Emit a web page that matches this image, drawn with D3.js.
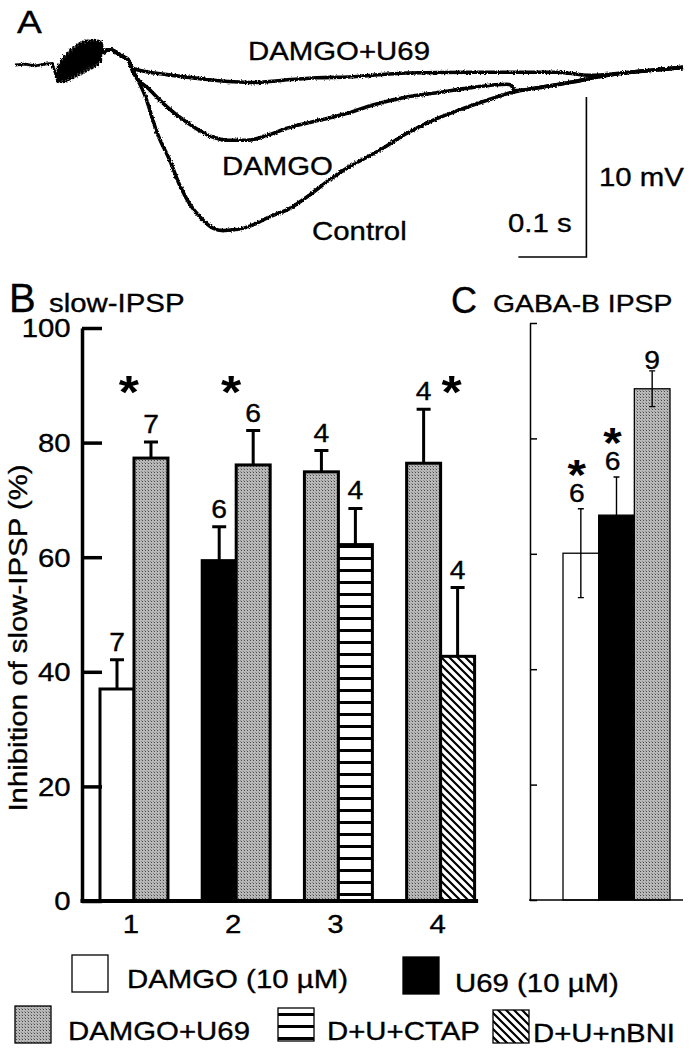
<!DOCTYPE html>
<html><head><meta charset="utf-8">
<script src="https://cdn.jsdelivr.net/npm/d3@7"></script>
<style>body{margin:0;background:#fff}svg{display:block}</style>
</head><body>
<svg id="chart" width="691" height="1055"></svg>
<script>
// ---------------- DATA ----------------
// Panel A: membrane potential traces [time (ms), potential (mV)]
const preStim = [[0,0],[15,0.05],[30,-0.05],[44,0.05],[55,0.1],[62,-0.9]];
const stimArtifact = [[63,-1.05],[63.6,0.0],[67.5,-1.05],[68.1,0.3],[72,-1.05],[72.6,0.55],[76.5,-1.0],[77.1,0.75],[81,-0.9],[81.6,0.95],[85.5,-0.8],[86.1,1.1],[90,-0.7],[90.6,1.25],[94.5,-0.6],[95.1,1.35],[99,-0.5],[99.6,1.45],[103.5,-0.4],[104.1,1.5],[108,-0.3],[108.6,1.5],[112.5,-0.2],[113.1,1.55],[117,-0.1],[117.6,1.55],[121.5,0.0],[122.1,1.5],[126,0.2],[126.6,1.45],[130,0.7]];
const postStim = [[130,0.7],[135,0.94],[142,0.94],[150,0.75],[160,0.5],[166,0.35]];
const controlTrace = [[173,-0.3],[191,-1.9],[209,-4.25],[228,-6.0],[243,-7.6],[257,-8.7],[272,-9.5],[291,-10.2],[306,-10.35],[321,-10.3],[340,-10.15],[355,-9.9],[371,-9.55],[385,-9.3],[400,-9.05],[429,-8.25],[468,-7.0],[490,-6.4],[507,-6.0],[537,-5.3],[577,-4.25],[615,-3.45],[654,-2.8],[694,-2.2],[732,-1.7],[772,-1.4],[821,-1.05],[850,-0.8],[894,-0.5],[944,-0.3],[982,-0.15]];
const damgoTrace = [[173,-0.4],[198,-1.55],[223,-2.6],[253,-3.6],[282,-4.35],[312,-4.7],[341,-4.7],[371,-4.4],[400,-3.95],[438,-3.55],[468,-3.25],[490,-3.0],[526,-2.5],[576,-2.0],[625,-1.7],[673,-1.4],[723,-1.2],[729,-1.25],[734,-1.6],[772,-1.4],[821,-1.05],[850,-0.8],[894,-0.5],[944,-0.3],[982,-0.15]];
const damgoU69Trace = [[173,-0.2],[198,-0.45],[223,-0.6],[272,-0.85],[321,-1.05],[350,-1.1],[394,-0.95],[444,-0.8],[490,-0.75],[576,-0.5],[673,-0.45],[723,-0.45],[797,-0.45],[846,-0.65],[894,-0.5],[944,-0.3],[982,-0.15]];
const traceNames = ["DAMGO+U69","DAMGO","Control"];
const scaleBarTime = [740, 840];   // 0.1 s
const scaleBarVolt = [-2, -12];    // 10 mV

// Panel B: inhibition of slow-IPSP (%)
const categories = ["1","2","3","4"];
const bLeftType  = ["DAMGO","U69","DAMGO+U69","DAMGO+U69"];
const bLeftValue = [37.0, 59.4, 74.9, 76.4];
const bLeftErr   = [5.1, 5.9, 3.7, 9.4];
const bLeftN     = [7, 6, 4, 4];
const bRightType  = ["DAMGO+U69","DAMGO+U69","D+U+CTAP","D+U+nBNI"];
const bRightValue = [77.3, 76.1, 62.2, 42.7];
const bRightErr   = [2.8, 6.0, 6.3, 12.0];
const bRightN     = [7, 6, 4, 4];
const bStarSide   = ["R","R",null,"L"];
const bTicks = [0,20,40,60,80,100];

// Panel C: GABA-B IPSP
const cTypes  = ["DAMGO","U69","DAMGO+U69"];
const cValues = [60.1, 66.7, 88.6];
const cErr    = [7.7, 6.6, 3.1];
const cN      = [6, 6, 9];
const cStar   = [true, true, false];

// Legend
const legendKeys   = ["DAMGO","U69","DAMGO+U69","D+U+CTAP","D+U+nBNI"];
const legendLabels = ["DAMGO (10 µM)","U69 (10 µM)","DAMGO+U69","D+U+CTAP","D+U+nBNI"];

// ---------------- DRAWING ----------------
const FONT = "'Liberation Sans', Arial, Helvetica, sans-serif";
const SX = 1.13;
const svg = d3.select("#chart");
svg.append("rect").attr("width",691).attr("height",1055).attr("fill","#fff");

function label(g, x, y, str, size, anchor, opts) {
  opts = opts || {};
  const t = g.append("text")
    .attr("transform", `translate(${x},${y})${opts.rot ? " rotate(" + opts.rot + ")" : ""} scale(${opts.sx || SX},1)`)
    .attr("text-anchor", anchor || "start")
    .attr("font-family", FONT)
    .attr("font-size", size)
    .attr("fill", "#000")
    .attr("stroke", "#000").attr("stroke-width", opts.bold ? 0 : 0.35)
    .text(str);
  if (opts.bold) t.attr("font-weight", "bold");
  return t;
}

// patterns & filters
const defs = svg.append("defs");
const st = defs.append("pattern").attr("id","stipple").attr("patternUnits","userSpaceOnUse").attr("width",3).attr("height",3);
st.append("rect").attr("width",3).attr("height",3).attr("fill","#b8b8b8");
st.append("rect").attr("x",1).attr("y",1).attr("width",1).attr("height",1).attr("fill","#4a4a4a");
st.append("rect").attr("x",0).attr("y",0).attr("width",1).attr("height",1).attr("fill","#8c8c8c");
const hs = defs.append("pattern").attr("id","hstripes").attr("patternUnits","userSpaceOnUse").attr("width",8).attr("height",12);
hs.append("rect").attr("width",8).attr("height",12).attr("fill","#fff");
hs.append("rect").attr("y",5).attr("width",8).attr("height",3).attr("fill","#000");
const dg = defs.append("pattern").attr("id","diag").attr("patternUnits","userSpaceOnUse").attr("width",8).attr("height",8);
dg.append("rect").attr("width",8).attr("height",8).attr("fill","#fff");
dg.append("path").attr("d","M-2,-2L10,10M-2,6L2,10M6,-2L10,2").attr("stroke","#000").attr("stroke-width",2.2);
const rough = defs.append("filter").attr("id","rough").attr("x","-2%").attr("y","-10%").attr("width","104%").attr("height","120%");
rough.append("feTurbulence").attr("type","fractalNoise").attr("baseFrequency","0.7").attr("numOctaves",1).attr("seed",4).attr("result","n");
rough.append("feDisplacementMap").attr("in","SourceGraphic").attr("in2","n").attr("scale",3.5).attr("xChannelSelector","R").attr("yChannelSelector","G");

const fills = {"DAMGO":"#fff","U69":"#000","DAMGO+U69":"url(#stipple)","D+U+CTAP":"url(#hstripes)","D+U+nBNI":"url(#diag)"};

// ---- Panel A ----
const gA = svg.append("g");
const xA = d3.scaleLinear().domain([0,982]).range([15,683]);
const yA = d3.scaleLinear().domain([-12,0]).range([257,65]);
const lineLin = d3.line().x(d=>xA(d[0])).y(d=>yA(d[1]));
const lineSm = d3.line().x(d=>xA(d[0])).y(d=>yA(d[1])).curve(d3.curveMonotoneX);
const gTr = gA.append("g").attr("filter","url(#rough)");
gTr.append("path").attr("d", lineLin(preStim.concat(stimArtifact)))
  .attr("fill","none").attr("stroke","#000").attr("stroke-width",2.8).attr("stroke-linejoin","round");
[damgoU69Trace, damgoTrace, controlTrace].forEach(tr => {
  gTr.append("path").attr("d", lineSm(postStim.concat(tr)))
    .attr("fill","none").attr("stroke","#000").attr("stroke-width",3.6).attr("stroke-linejoin","round");
});
gA.append("path")
  .attr("d", `M${xA(scaleBarTime[1])},${yA(scaleBarVolt[0])}V${yA(scaleBarVolt[1])}H${xA(scaleBarTime[0])}`)
  .attr("fill","none").attr("stroke","#000").attr("stroke-width",1.6);
label(gA, 17, 33, "A", 31, "start", {sx:1.2});
label(gA, 248, 60, traceNames[0], 26);
label(gA, 222, 175, traceNames[1], 26);
label(gA, 312, 240, traceNames[2], 26);
label(gA, 599, 186, "10 mV", 26);
label(gA, 508, 232, "0.1 s", 26);

// ---- Panel B ----
const gB = svg.append("g");
const yB = d3.scaleLinear().domain([0,100]).range([901,328]);
const xB = d3.scaleBand().domain(categories).range([100,474.6]).paddingInner(0.335).paddingOuter(0);
const xSub = d3.scaleBand().domain(["L","R"]).range([0,xB.bandwidth()]);

const bBars = [];
categories.forEach((c,i) => {
  bBars.push({cat:c, side:"L", type:bLeftType[i], v:bLeftValue[i], e:bLeftErr[i], n:bLeftN[i]});
  bBars.push({cat:c, side:"R", type:bRightType[i], v:bRightValue[i], e:bRightErr[i], n:bRightN[i]});
});
const bx = d => xB(d.cat) + xSub(d.side);
const bcx = d => bx(d) + xSub.bandwidth()/2;

gB.selectAll("rect.bar").data(bBars).join("rect").attr("class","bar")
  .attr("x", bx).attr("y", d=>yB(d.v))
  .attr("width", xSub.bandwidth()).attr("height", d=>yB(0)-yB(d.v))
  .attr("fill", d=>fills[d.type]).attr("stroke","#000").attr("stroke-width",3);

gB.selectAll("path.err").data(bBars).join("path").attr("class","err")
  .attr("d", d=>`M${bcx(d)},${yB(d.v)}V${yB(d.v+d.e)}M${bcx(d)-7},${yB(d.v+d.e)}H${bcx(d)+7}`)
  .attr("fill","none").attr("stroke","#000").attr("stroke-width",3);

bBars.forEach(d => label(gB, bcx(d), yB(d.v+d.e)-9, String(d.n), 25, "middle"));

categories.forEach((c,i) => {
  if (!bStarSide[i]) return;
  const d = bBars[i*2 + (bStarSide[i]==="L"?0:1)];
  const sx = bStarSide[i]==="R" ? bcx(d) - 22 : bcx(d) + 28;
  label(gB, sx, yB(90.5)+26, "*", 46, "middle", {bold:true});
});

const axB = d3.axisLeft(yB).tickValues(bTicks).tickSize(-20).tickSizeOuter(0).tickPadding(10);
const gAxB = gB.append("g").attr("transform","translate(82,0)").call(axB);
gAxB.select(".domain").attr("stroke-width",3.5);
gAxB.selectAll(".tick line").attr("stroke-width",3.5);
gAxB.selectAll(".tick text").attr("font-family",FONT).attr("font-size",26)
  .attr("stroke","#000").attr("stroke-width",0.35)
  .attr("transform",`scale(${SX},1)`).attr("dy","0.34em");
gB.append("line").attr("x1",80.5).attr("x2",xB.range()[1]+3.5).attr("y1",yB(0)).attr("y2",yB(0))
  .attr("stroke","#000").attr("stroke-width",4);

categories.forEach(c => label(gB, xB(c)+xB.bandwidth()/2-3, 933, c, 26, "middle"));
label(gB, 27, 638, "Inhibition of slow-IPSP (%)", 26, "middle", {rot:-90});
label(gB, 9, 312, "B", 40, "start", {sx:1.0});
label(gB, 49, 312, "slow-IPSP", 26);

// ---- Panel C ----
const gC = svg.append("g");
const yC = d3.scaleLinear().domain([0,100]).range([900,323]);
const xC = d3.scaleBand().domain(cTypes).range([563,670]);
const cBars = cTypes.map((t,i)=>({type:t, v:cValues[i], e:cErr[i], n:cN[i], star:cStar[i]}));
const ccx = d => xC(d.type) + xC.bandwidth()/2;

gC.selectAll("rect").data(cBars).join("rect")
  .attr("x", d=>xC(d.type)).attr("y", d=>yC(d.v))
  .attr("width", xC.bandwidth()).attr("height", d=>yC(0)-yC(d.v))
  .attr("fill", d=>fills[d.type]).attr("stroke","#000").attr("stroke-width",1.3);
gC.selectAll("path.err").data(cBars).join("path").attr("class","err")
  .attr("d", d=>`M${ccx(d)},${yC(d.v-d.e)}V${yC(d.v+d.e)}M${ccx(d)-3},${yC(d.v+d.e)}H${ccx(d)+3}M${ccx(d)-3},${yC(d.v-d.e)}H${ccx(d)+3}`)
  .attr("fill","none").attr("stroke","#000").attr("stroke-width",1.4);

// n label, with the significance star stacked above it in the same text block
cBars.forEach(d => {
  const lx = ccx(d) - (d.type==="DAMGO+U69" ? 0 : 4);
  const ly = yC(d.v+d.e) - (d.type==="DAMGO+U69" ? 2 : 7);
  const t = gC.append("text")
    .attr("transform", `translate(${lx},${ly}) scale(${SX},1)`)
    .attr("text-anchor","middle").attr("font-family",FONT).attr("fill","#000");
  if (d.star) {
    t.append("tspan").attr("x",0).attr("y",-13).attr("font-size",42).attr("font-weight","bold").text("*");
  }
  t.append("tspan").attr("x",0).attr("y",0).attr("font-size",25)
    .attr("stroke","#000").attr("stroke-width",0.35).text(String(d.n));
});

const axC = d3.axisLeft(yC).tickValues(bTicks).tickSize(-7).tickSizeOuter(0).tickFormat("");
const gAxC = gC.append("g").attr("transform","translate(530,0)").call(axC);
gAxC.selectAll("line,path").attr("stroke-width",1.5);
gC.append("line").attr("x1",529).attr("x2",683).attr("y1",yC(0)).attr("y2",yC(0))
  .attr("stroke","#000").attr("stroke-width",1.6);
label(gC, 451, 313, "C", 36, "start", {sx:1.0});
label(gC, 493, 312, "GABA-B IPSP", 24, "start", {sx:1.18});

// ---- Legend ----
const gL = svg.append("g");
const legendLayout = [
  {bx:72, by:955, tx:127, ty:988},
  {bx:403, by:957, tx:455, ty:992},
  {bx:15, by:1006, tx:68, ty:1040},
  {bx:278, by:1008, tx:327, ty:1040},
  {bx:493, by:1010, tx:533, ty:1042}
];
legendKeys.forEach((k,i) => {
  const p = legendLayout[i];
  gL.append("rect").attr("x",p.bx).attr("y",p.by).attr("width",36).attr("height",k==="D+U+CTAP"||k==="D+U+nBNI"?33:37)
    .attr("fill",fills[k]).attr("stroke","#000").attr("stroke-width",1.3);
  label(gL, p.tx, p.ty, legendLabels[i], 26);
});
</script>
</body></html>
